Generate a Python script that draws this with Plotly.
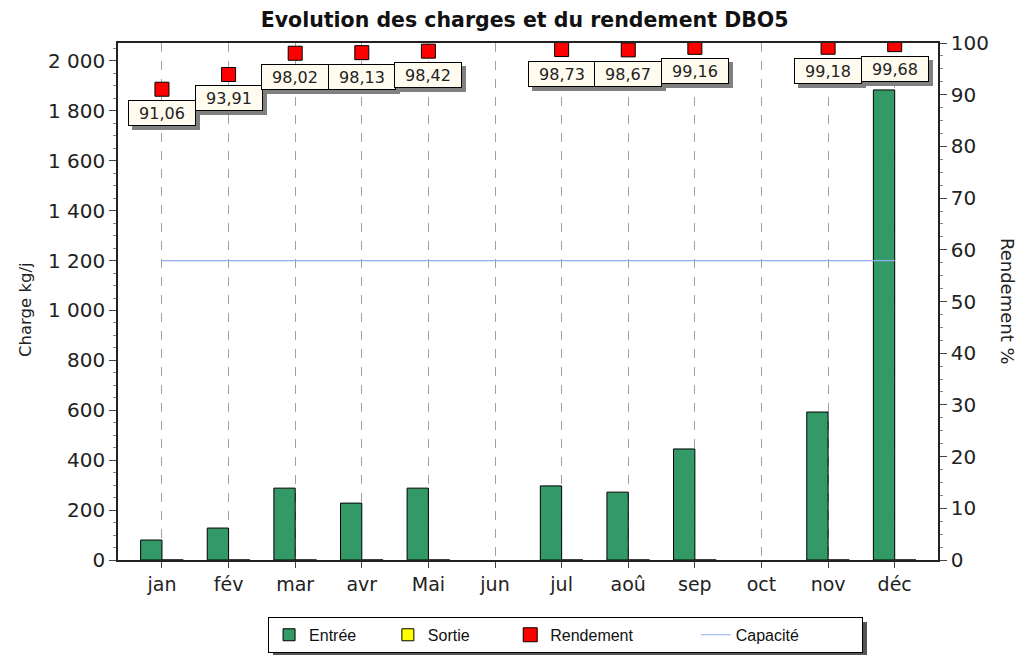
import plotly.graph_objects as go

months = ["jan", "fév", "mar", "avr", "Mai", "jun", "jul", "aoû", "sep", "oct", "nov", "déc"]
entree = [80, 128, 288, 228, 288, None, 297, 272, 445, None, 593, 1884]
sortie = [0, 0, 0, 0, 0, None, 0, 0, 0, None, 0, 0]
rendement = [91.06, 93.91, 98.02, 98.13, 98.42, None, 98.73, 98.67, 99.16, None, 99.18, 99.68]
capacite = [1200] * 12

FONT = "DejaVu Sans"
LFONT = "Liberation Sans"
NB = "\u00a0"

fig = go.Figure()
fig.add_trace(go.Bar(x=months, y=entree, name="Entrée" + NB * 6, marker=dict(color="#339966", line=dict(color="black", width=1)), yaxis="y"))
fig.add_trace(go.Bar(x=months, y=sortie, name="Sortie" + NB * 8, marker=dict(color="#FFFF00", line=dict(color="black", width=1)), yaxis="y"))
fig.add_trace(go.Scatter(x=months, y=rendement, name="Rendement" + NB * 13, mode="markers",
                         marker=dict(symbol="square", size=14, color="#FF0000", line=dict(color="black", width=1)),
                         yaxis="y2"))
fig.add_trace(go.Scatter(x=months, y=capacite, name="Capacité" + NB * 13, mode="lines",
                         line=dict(color="#92AEF2", width=1.2), yaxis="y"))

for m, r in zip(months, rendement):
    if r is None:
        continue
    txt = f"{r:.2f}".replace(".", ",")
    fig.add_annotation(x=m, y=r, xref="x", yref="y2", text=txt, showarrow=False,
                       yshift=-28, xshift=4, bgcolor="#808080", bordercolor="#808080", borderwidth=1,
                       width=62, height=20, borderpad=2, font=dict(family=FONT, size=16, color="rgba(0,0,0,0)"))
for m, r in zip(months, rendement):
    if r is None:
        continue
    txt = f"{r:.2f}".replace(".", ",")
    fig.add_annotation(x=m, y=r, xref="x", yref="y2", text=txt, showarrow=False,
                       yshift=-24, bgcolor="#FFFBEF", bordercolor="black", borderwidth=1,
                       width=62, height=20, borderpad=2, font=dict(family=FONT, size=16, color="#222222"))

fig.add_annotation(x=1, y=0.5, xref="paper", yref="paper", text="Rendement %", textangle=90,
                   xshift=82, showarrow=False, font=dict(family=FONT, size=18, color="#222222"))
fig.add_annotation(x=0, y=0.5, xref="paper", yref="paper", text="Charge kg/j", textangle=-90,
                   xshift=-104, yshift=-8, showarrow=False, font=dict(family=FONT, size=16.5, color="#222222"))

# legend shadow
fig.add_shape(type="rect", xref="paper", yref="paper", x0=0.189, x1=0.9134, y0=-0.1199, y1=-0.1838,
              fillcolor="#555555", line=dict(width=0), layer="below")

fig.update_layout(
    width=1025, height=657,
    margin=dict(l=110, r=95, t=35, b=105),
    paper_bgcolor="white", plot_bgcolor="white",
    separators=", ",
    title=dict(text="<b>Evolution des charges et du rendement DBO5</b>", x=0.504, xanchor="center",
               y=0.9817, yanchor="middle", yref="container",
               font=dict(family=FONT, size=20.5, color="#111111")),
    font=dict(family=FONT, size=20, color="#222222"),
    barmode="group", bargap=0.36, bargroupgap=0,
    showlegend=True,
    legend=dict(orientation="h", x=0.183, xanchor="left", y=-0.110, yanchor="top",
                bgcolor="white", bordercolor="black", borderwidth=1,
                font=dict(family=LFONT, size=16, color="#111111"), traceorder="normal"),
    xaxis=dict(range=[-0.66, 11.65], showgrid=True, griddash="dash", gridcolor="#a0a0a0", gridwidth=1,
               showline=True, linecolor="#222222", linewidth=1.5, mirror=True,
               ticks="outside", ticklen=6, tickcolor="#444444",
               minor=dict(ticks="outside", ticklen=3, tickcolor="#888888", dtick=0.25),
               tickfont=dict(family=FONT, size=19)),
    yaxis=dict(range=[0, 2072], dtick=200, showgrid=False, zeroline=False,
               showline=True, linecolor="#222222", linewidth=1.5,
               ticks="outside", ticklen=7, tickcolor="#444444",
               minor=dict(ticks="outside", ticklen=3, tickcolor="#888888", dtick=50),
               tickformat=",d", tickfont=dict(family=FONT, size=20)),
    yaxis2=dict(range=[0, 100], dtick=10, overlaying="y", side="right", showgrid=False, zeroline=False,
                showline=True, linecolor="#222222", linewidth=1.5,
                ticks="outside", ticklen=7, tickcolor="#444444",
                minor=dict(ticks="outside", ticklen=3, tickcolor="#888888", dtick=2.5),
                tickfont=dict(family=FONT, size=20)),
)

fig.write_html("out.html")
